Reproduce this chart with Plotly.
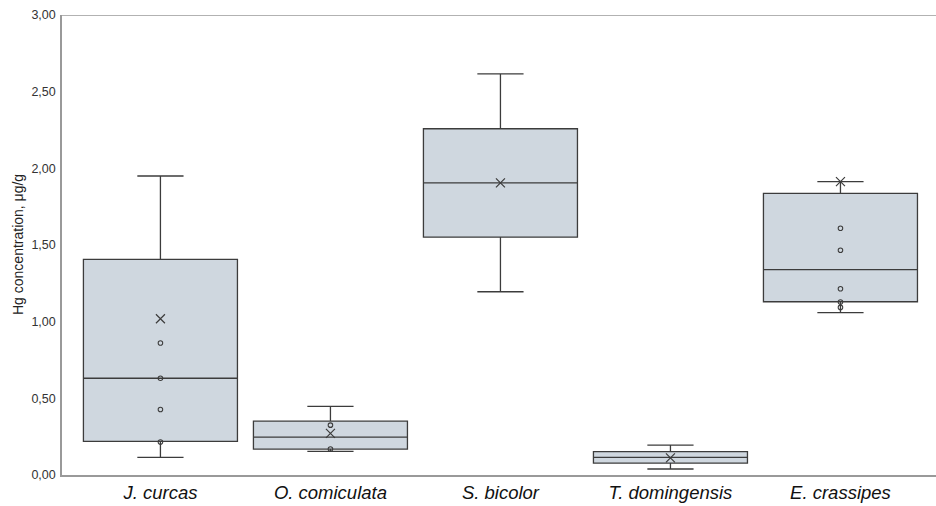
import plotly.graph_objects as go

species = ["J. curcas", "O. comiculata", "S. bicolor", "T. domingensis", "E. crassipes"]
q1 = [0.219, 0.169, 1.551, 0.078, 1.130]
median = [0.631, 0.247, 1.905, 0.115, 1.340]
q3 = [1.406, 0.351, 2.258, 0.152, 1.837]
lower = [0.115, 0.154, 1.195, 0.039, 1.059]
upper = [1.950, 0.447, 2.616, 0.195, 1.913]
means = [1.019, 0.271, 1.905, 0.112, 1.913]
inner_points = [
    [0.861, 0.631, 0.427, 0.215],
    [0.325, 0.170],
    [],
    [],
    [1.609, 1.466, 1.215, 1.128, 1.093],
]
yticks = [0, 0.5, 1.0, 1.5, 2.0, 2.5, 3.0]

pos = list(range(len(species)))
line_col = "#3c3c3c"
fill_col = "#cfd7df"

fig = go.Figure()
fig.add_trace(go.Box(
    x=pos, q1=q1, median=median, q3=q3, lowerfence=lower, upperfence=upper,
    width=0.906, whiskerwidth=0.3,
    fillcolor=fill_col, line=dict(color=line_col, width=1.3),
    boxpoints=False, showlegend=False, hoverinfo="skip",
))

px, py = [], []
for i, pts in enumerate(inner_points):
    for v in pts:
        px.append(pos[i]); py.append(v)
fig.add_trace(go.Scatter(
    x=px, y=py, mode="markers", showlegend=False,
    marker=dict(symbol="circle-open", size=4.5, color=line_col, line=dict(width=1.1, color=line_col)),
))
fig.add_trace(go.Scatter(
    x=pos, y=means, mode="markers", showlegend=False,
    marker=dict(symbol="x-thin-open", size=9, color=line_col, line=dict(width=1.2, color=line_col)),
))

fig.update_layout(
    width=936, height=506,
    margin=dict(l=62, r=0, t=15, b=31, autoexpand=False),
    paper_bgcolor="white", plot_bgcolor="white",
    separators=",.",
    font=dict(family="Liberation Sans, Arial, sans-serif", color="#222"),
    xaxis=dict(
        range=[-0.579, 4.562], tickmode="array", tickvals=pos, ticktext=species,
        tickfont=dict(size=18.5, style="italic", color="#111"),
        showgrid=False, zeroline=False, showline=True, linecolor="#999", linewidth=1.5,
        ticks="", mirror=False, automargin=False, ticklabelstandoff=0,
    ),
    yaxis=dict(
        range=[0, 3], tickmode="array", tickvals=yticks, tickformat=".2f",
        tickfont=dict(size=12.5, color="#333"),
        showgrid=False, zeroline=False, showline=True, linecolor="#999", linewidth=1.5,
        ticks="", automargin=False, ticklabelstandoff=2,
    ),
    shapes=[dict(type="line", xref="paper", yref="y", x0=0, x1=1, y0=3, y1=3,
                 line=dict(color="#999", width=1.5))],
    annotations=[dict(
        text="Hg concentration, μg/g", textangle=-90, showarrow=False,
        xref="paper", yref="paper", x=(18 - 62) / 874, y=0.5,
        xanchor="center", yanchor="middle", font=dict(size=14, color="#222"),
    )],
)

fig.write_html(
    "out.html",
    config={"displayModeBar": False},
    post_script="document.body.style.margin='0';document.body.style.overflow='hidden';",
)
